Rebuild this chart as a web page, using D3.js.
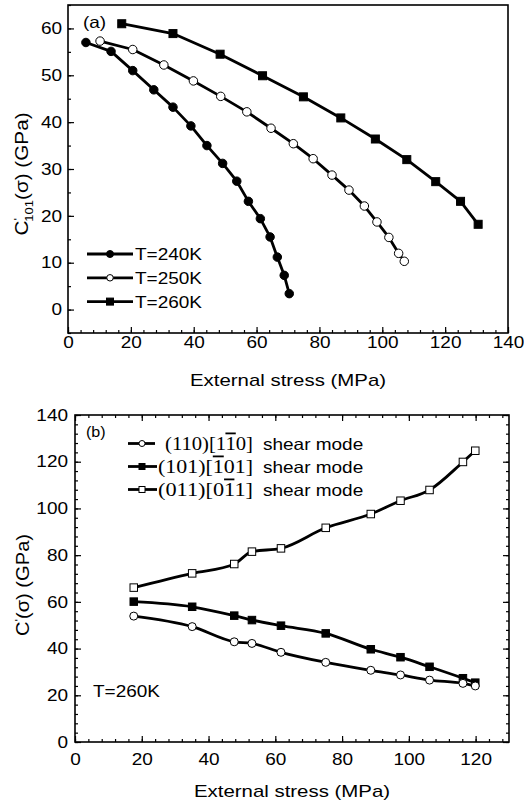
<!DOCTYPE html>
<html>
<head>
<meta charset="utf-8">
<script src="https://cdn.jsdelivr.net/npm/d3@7"></script>
<style>
  body { margin: 0; background: #fff; }
  svg { display: block; font-family: "Liberation Sans", Arial, sans-serif; }
</style>
</head>
<body>
<svg id="chart" width="524" height="804"></svg>
<script>
// ---- panel (a): C'101 vs external stress at three temperatures ----
const t240Stress = [5.7, 13.7, 20.6, 27.3, 33.4, 39.1, 44.2, 49.2, 53.7, 57.4, 61.2, 64.3, 66.6, 68.8, 70.4];
const t240Mod    = [57.0, 55.1, 51.0, 46.9, 43.2, 39.2, 35.0, 31.2, 27.4, 23.1, 19.4, 15.5, 11.2, 7.3, 3.4];

const t250Stress = [10.2, 20.6, 30.5, 39.9, 48.6, 56.9, 64.6, 71.7, 78.0, 84.0, 89.4, 94.3, 98.3, 102.1, 105.2, 107.0];
const t250Mod    = [57.3, 55.5, 52.2, 48.8, 45.5, 42.2, 38.7, 35.4, 32.2, 28.7, 25.5, 22.1, 18.7, 15.4, 12.0, 10.3];

const t260Stress = [17.1, 33.4, 48.4, 61.9, 74.9, 86.8, 97.8, 107.8, 117.0, 124.9, 130.5];
const t260Mod    = [61.0, 58.9, 54.5, 49.9, 45.4, 40.9, 36.4, 32.0, 27.3, 23.1, 18.2];

const labelsA = ["T=240K", "T=250K", "T=260K"];

// ---- panel (b): three shear modes at T=260K ----
const shearStress = [17.6, 35.1, 47.7, 53.0, 61.7, 75.1, 88.6, 97.5, 106.2, 116.2, 119.9];
const mode110 = [53.9, 49.4, 42.9, 42.2, 38.4, 34.1, 30.7, 28.7, 26.5, 25.1, 24.0];
const mode101 = [60.1, 57.9, 54.1, 52.2, 49.8, 46.5, 39.7, 36.3, 32.2, 27.3, 25.4];
const mode011 = [66.1, 72.2, 76.2, 81.5, 82.9, 91.7, 97.6, 103.3, 107.9, 119.9, 124.7];

const xTicksA = [0, 20, 40, 60, 80, 100, 120, 140];
const yTicksA = [0, 10, 20, 30, 40, 50, 60];
const xTicksB = [0, 20, 40, 60, 80, 100, 120];
const yTicksB = [0, 20, 40, 60, 80, 100, 120, 140];

const svg = d3.select("#chart");
const stretch = 1.15; // the reference text is a bit wider than Arial

function widen(sel, k) {
    sel.each(function () {
        const w = this.getComputedTextLength();
        d3.select(this).attr("textLength", w * (k || stretch)).attr("lengthAdjust", "spacingAndGlyphs");
    });
    return sel;
}

function zip(xs, ys) {
    return xs.map((x, i) => ({ x: x, y: ys[i] }));
}

function marker(g, shape, cx, cy, size) {
    if (shape === "circle" || shape === "ocircle") {
        g.append("circle")
            .attr("cx", cx).attr("cy", cy).attr("r", size / 2)
            .attr("fill", shape === "circle" ? "#000" : "#fff")
            .attr("stroke", "#000").attr("stroke-width", 1);
    } else {
        g.append("rect")
            .attr("x", cx - size / 2).attr("y", cy - size / 2)
            .attr("width", size).attr("height", size)
            .attr("fill", shape === "square" ? "#000" : "#fff")
            .attr("stroke", "#000").attr("stroke-width", 1);
    }
}

function drawAxes(p) {
    const g = svg.append("g");
    const x = p.x, y = p.y;
    const [x0, x1] = x.range();
    const [y0, y1] = y.range();

    const xMinor = d3.range(x.domain()[0], x.domain()[1] + 0.01, 4);
    const yMinor = d3.range(y.domain()[0], y.domain()[1] + 0.01, p.yMinorStep);

    // minor ticks
    g.append("g").attr("transform", `translate(0,${y0})`)
        .call(d3.axisBottom(x).tickValues(xMinor).tickSize(-3).tickFormat(""));
    g.append("g").attr("transform", `translate(${x0},0)`)
        .call(d3.axisLeft(y).tickValues(yMinor).tickSize(-3).tickFormat(""));

    // major ticks with labels
    const xa = g.append("g").attr("transform", `translate(0,${y0})`)
        .call(d3.axisBottom(x).tickValues(p.xTicks).tickSize(-6).tickPadding(p.xPad).tickSizeOuter(0));
    const ya = g.append("g").attr("transform", `translate(${x0},0)`)
        .call(d3.axisLeft(y).tickValues(p.yTicks).tickSize(-6).tickPadding(p.yPad).tickSizeOuter(0));

    if (p.mirror) {
        g.append("g").attr("transform", `translate(0,${y1})`)
            .call(d3.axisTop(x).tickValues(xMinor).tickSize(-3).tickFormat(""));
        g.append("g").attr("transform", `translate(${x1},0)`)
            .call(d3.axisRight(y).tickValues(yMinor).tickSize(-3).tickFormat(""));
        g.append("g").attr("transform", `translate(0,${y1})`)
            .call(d3.axisTop(x).tickValues(p.xTicks).tickSize(-6).tickFormat(""));
        g.append("g").attr("transform", `translate(${x1},0)`)
            .call(d3.axisRight(y).tickValues(p.yTicks).tickSize(-6).tickFormat(""));
    }

    g.selectAll(".domain").remove();
    g.selectAll(".tick line").attr("stroke", "#000").attr("stroke-width", 1.2);
    [xa, ya].forEach(a => a.selectAll("text")
        .attr("font-size", 16.5).attr("fill", "#000")
        .attr("font-family", "Liberation Sans, Arial, sans-serif"));
    widen(xa.selectAll("text"));
    widen(ya.selectAll("text"));

    // frame
    g.append("rect")
        .attr("x", x0).attr("y", y1)
        .attr("width", x1 - x0).attr("height", y0 - y1)
        .attr("fill", "none").attr("stroke", "#000").attr("stroke-width", 1.6);

    // x title
    widen(g.append("text")
        .attr("x", (x0 + x1) / 2).attr("y", p.xTitleY)
        .attr("text-anchor", "middle").attr("font-size", 17)
        .text("External stress (MPa)"), 1.2);
}

function drawSeries(p, xs, ys, shape, size, curve) {
    const line = d3.line().x(d => p.x(d.x)).y(d => p.y(d.y)).curve(curve);
    const data = zip(xs, ys);
    svg.append("path").datum(data)
        .attr("fill", "none").attr("stroke", "#000").attr("stroke-width", 2.8)
        .attr("stroke-linejoin", "round")
        .attr("d", line);
    const g = svg.append("g");
    data.forEach(d => marker(g, shape, p.x(d.x), p.y(d.y), size));
}

// ---------------- panel (a) ----------------
const pa = {
    x: d3.scaleLinear().domain([0, 140]).range([68, 508]),
    y: d3.scaleLinear().domain([-5, 65]).range([333, 5]),
    xTicks: xTicksA, yTicks: yTicksA, yMinorStep: 5,
    xPad: 3, yPad: 6, xTitleY: 386, mirror: false
};
drawAxes(pa);
drawSeries(pa, t240Stress, t240Mod, "circle", 8.5, d3.curveLinear);
drawSeries(pa, t250Stress, t250Mod, "ocircle", 8.5, d3.curveLinear);
drawSeries(pa, t260Stress, t260Mod, "square", 8, d3.curveLinear);

widen(svg.append("text").attr("x", 83).attr("y", 28).attr("font-size", 16.5).text("(a)"));

// legend (a)
const shapesA = ["circle", "ocircle", "square"];
labelsA.forEach((lab, i) => {
    const ly = 254 + i * 23.8;
    const g = svg.append("g");
    g.append("line").attr("x1", 87).attr("x2", 133).attr("y1", ly).attr("y2", ly)
        .attr("stroke", "#000").attr("stroke-width", 2.8);
    marker(g, shapesA[i], 110, ly, shapesA[i] === "ocircle" ? 6.5 : 7);
    widen(g.append("text").attr("x", 135).attr("y", ly + 6).attr("font-size", 16.5).text(lab));
});

// y title (a): C'101(σ) (GPa)
const ta = svg.append("text")
    .attr("transform", "translate(28,174) rotate(-90)")
    .attr("text-anchor", "middle").attr("font-size", 17.5);
ta.append("tspan").text("C");
ta.append("tspan").attr("font-size", 11).attr("dy", -6).text("'");
ta.append("tspan").attr("font-size", 11).attr("dy", 11).attr("dx", -3).text("101");
ta.append("tspan").attr("dy", -5).text("(σ) (GPa)");
widen(ta);

// ---------------- panel (b) ----------------
const pb = {
    x: d3.scaleLinear().domain([0, 130]).range([75, 509]),
    y: d3.scaleLinear().domain([0, 140]).range([742, 415]),
    xTicks: xTicksB, yTicks: yTicksB, yMinorStep: 4,
    xPad: 11, yPad: 7, xTitleY: 797, mirror: true
};
drawAxes(pb);
drawSeries(pb, shearStress, mode011, "osquare", 7.5, d3.curveMonotoneX);
drawSeries(pb, shearStress, mode101, "square", 7.5, d3.curveMonotoneX);
drawSeries(pb, shearStress, mode110, "ocircle", 8, d3.curveMonotoneX);

widen(svg.append("text").attr("x", 86).attr("y", 437).attr("font-size", 14).text("(b)"));
widen(svg.append("text").attr("x", 93).attr("y", 697).attr("font-size", 16.5).text("T=260K"));

// legend (b)
const legendB = [
    { shape: "ocircle", size: 6, x2: 155, tx: 165, w: 88, idx: [["(110)[1", false], ["1", true], ["0]", false]] },
    { shape: "square", size: 6, x2: 157, tx: 158, w: 95, idx: [["(101)[", false], ["1", true], ["01]", false]] },
    { shape: "osquare", size: 6, x2: 157, tx: 158, w: 95, idx: [["(011)[0", false], ["1", true], ["1]", false]] }
];
legendB.forEach((r, i) => {
    const ly = 443.5 + i * 23;
    const g = svg.append("g");
    g.append("line").attr("x1", 128).attr("x2", r.x2).attr("y1", ly).attr("y2", ly)
        .attr("stroke", "#000").attr("stroke-width", 2.8);
    marker(g, r.shape, 142, ly, r.size);
    const t = g.append("text").attr("x", r.tx).attr("y", ly + 6)
        .attr("font-family", "Liberation Serif, Times New Roman, serif").attr("font-size", 18);
    r.idx.forEach(([s, bar]) => {
        t.append("tspan").style("text-decoration", bar ? "overline" : "none").text(s);
    });
    t.attr("textLength", r.w).attr("lengthAdjust", "spacingAndGlyphs");
    widen(g.append("text").attr("x", 263).attr("y", ly + 6).attr("font-size", 16.5).text("shear mode"));
});

// y title (b): C'(σ) (GPa)
const tb = svg.append("text")
    .attr("transform", "translate(29,585) rotate(-90)")
    .attr("text-anchor", "middle").attr("font-size", 17.5);
tb.append("tspan").text("C");
tb.append("tspan").attr("font-size", 11).attr("dy", -6).text("'");
tb.append("tspan").attr("dy", 6).text("(σ) (GPa)");
widen(tb);
</script>
</body>
</html>
